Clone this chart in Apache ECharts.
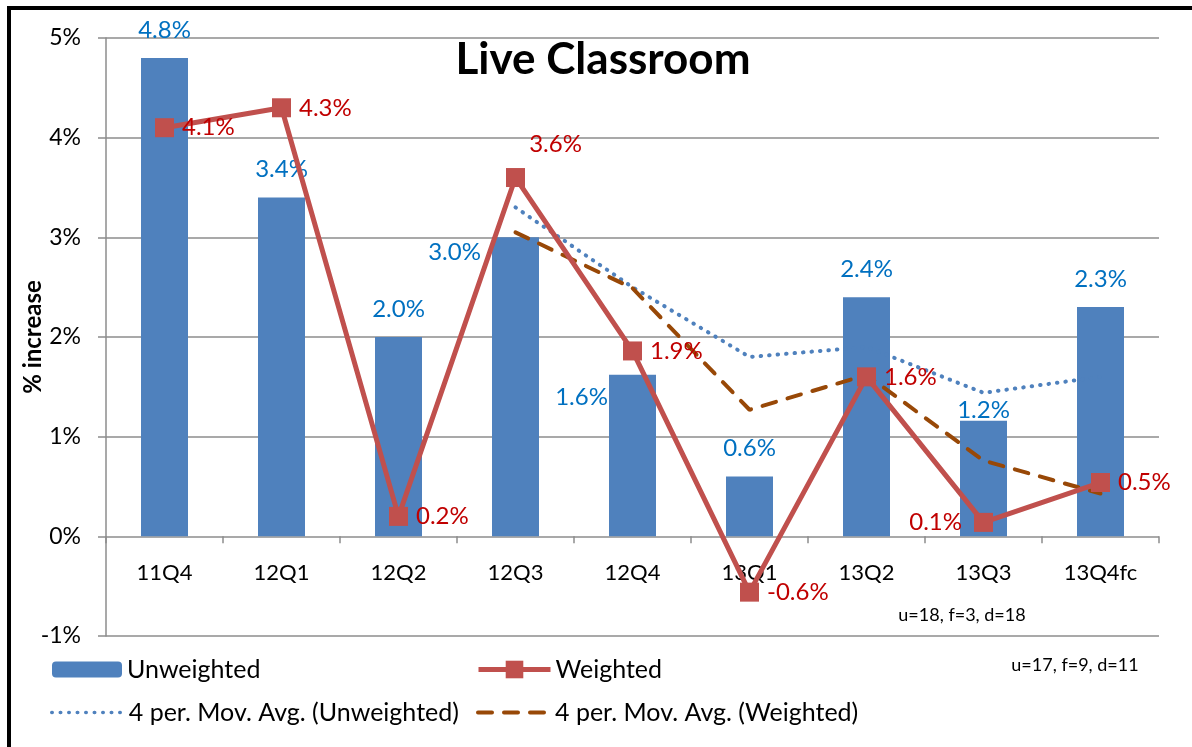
<!DOCTYPE html>
<html>
<head>
<meta charset="utf-8">
<script src="https://cdn.jsdelivr.net/npm/echarts@6/dist/echarts.min.js"></script>
<style>
html,body{margin:0;padding:0;background:#fff;}
#chart{width:1192px;height:747px;}
</style>
</head>
<body>
<div id="chart"></div>
<script>
// ---- data ----
const categories = ['11Q4','12Q1','12Q2','12Q3','12Q4','13Q1','13Q2','13Q3','13Q4fc'];
const unweighted = [4.8, 3.4, 2.0, 3.0, 1.62, 0.6, 2.4, 1.16, 2.3];
const weighted = [4.1, 4.3, 0.2, 3.6, 1.86, -0.56, 1.6, 0.14, 0.54];
const movAvgUnweighted = [null, null, null, 3.3, 2.5, 1.8, 1.9, 1.44, 1.6];
const movAvgWeighted = [null, null, null, 3.05, 2.49, 1.27, 1.62, 0.76, 0.43];
const yTicks = {min: -1, max: 5, step: 1};
const titleText = 'Live Classroom';
const yAxisTitle = '% increase';
const notes = ['u=18, f=3, d=18', 'u=17, f=9, d=11'];

// ---- styling ----
const FONT = 'Lato, "Noto Sans", sans-serif';
const BLUE = '#4F81BD', RED = '#C0504D', BROWN = '#984807';
const LBLUE = '#0070C0', LRED = '#C00000', GRID = '#8C8C8C';

const barLabelOverrides = {
  3: {offset: [-61, 43]},
  4: {offset: [-51, 50]},
  7: {offset: [0, 18]}
};
const lineLabelOverrides = {
  3: {position: 'top', offset: [40, -4]},
  7: {position: 'left', distance: 12}
};
const pct = v => v.toFixed(1) + '%';

const barData = unweighted.map((v, i) => barLabelOverrides[i] ? {value: v, label: barLabelOverrides[i]} : v);
const lineData = weighted.map((v, i) => lineLabelOverrides[i] ? {value: v, label: lineLabelOverrides[i]} : v);
const tickData = categories.map((c, i) => [i, 0]);

const chart = echarts.init(document.getElementById('chart'));
const legendBase = {padding: 0, itemGap: 0, textStyle: {fontFamily: FONT, fontSize: 25, color: '#000'}};
chart.setOption({
  animation: false,
  backgroundColor: '#fff',
  grid: {left: 106, right: 33, top: 38, bottom: 111, containLabel: false},
  xAxis: {
    type: 'category', data: categories,
    axisLine: {show: false, onZero: false},
    axisTick: {show: false},
    axisLabel: {fontFamily: FONT, fontSize: 22, color: '#000', margin: -74},
    splitLine: {show: false}
  },
  yAxis: {
    type: 'value', min: yTicks.min, max: yTicks.max, interval: yTicks.step,
    axisLine: {show: true, lineStyle: {color: GRID, width: 1.5}},
    axisTick: {show: true, length: 8, lineStyle: {color: GRID, width: 1.5}},
    axisLabel: {fontFamily: FONT, fontSize: 23, color: '#000', margin: 25, formatter: '{value}%'},
    splitLine: {show: true, lineStyle: {color: GRID, width: 1.5}}
  },
  legend: [
    Object.assign({}, legendBase, {data: ['Unweighted'], left: 52, top: 657, itemWidth: 70, itemHeight: 16}),
    Object.assign({}, legendBase, {data: ['Weighted'], left: 476, top: 657, itemWidth: 72, itemHeight: 22, lineStyle: {width: 5}}),
    Object.assign({}, legendBase, {data: ['4 per. Mov. Avg. (Unweighted)'], left: 50, top: 700, itemWidth: 72, itemHeight: 14, itemStyle: {opacity: 0}, lineStyle: {width: 3.5}}),
    Object.assign({}, legendBase, {data: ['4 per. Mov. Avg. (Weighted)'], left: 476, top: 700, itemWidth: 72, itemHeight: 14, itemStyle: {opacity: 0}, lineStyle: {width: 4}})
  ],
  graphic: [
    {type: 'rect', shape: {x: 9, y: 8, width: 1400, height: 900}, style: {fill: null, stroke: '#000', lineWidth: 4}, silent: true, z: 100},
    {type: 'text', x: 603, y: 60, style: {text: titleText, fontFamily: FONT, fontSize: 44, fontWeight: 'bold', fill: '#000', align: 'center', verticalAlign: 'middle'}},
    {type: 'text', x: 33, y: 337, rotation: Math.PI / 2, style: {text: yAxisTitle, fontFamily: FONT, fontSize: 24, fontWeight: 'bold', fill: '#000', align: 'center', verticalAlign: 'middle'}},
    {type: 'text', x: 962, y: 615, style: {text: notes[0], fontFamily: FONT, fontSize: 18, fill: '#000', align: 'center', verticalAlign: 'middle'}},
    {type: 'text', x: 1075, y: 665, style: {text: notes[1], fontFamily: FONT, fontSize: 18, fill: '#000', align: 'center', verticalAlign: 'middle'}}
  ],
  series: [
    {
      name: 'Unweighted', type: 'bar', data: barData, barWidth: 47, z: 2,
      itemStyle: {color: BLUE},
      label: {show: true, position: 'top', distance: 16, color: LBLUE, fontFamily: FONT, fontSize: 24, formatter: p => pct(p.value)}
    },
    {
      name: '4 per. Mov. Avg. (Unweighted)', type: 'line', data: movAvgUnweighted, z: 3,
      symbol: 'none', connectNulls: false, color: BLUE,
      lineStyle: {color: BLUE, width: 4, type: [0.5, 8], cap: 'round'}
    },
    {
      name: '4 per. Mov. Avg. (Weighted)', type: 'line', data: movAvgWeighted, z: 3,
      symbol: 'none', color: BROWN,
      lineStyle: {color: BROWN, width: 4, type: [14, 12], cap: 'round'}
    },
    {
      name: 'Weighted', type: 'line', data: lineData, z: 4,
      symbol: 'rect', symbolSize: 19, color: RED,
      itemStyle: {color: RED},
      lineStyle: {color: RED, width: 5},
      label: {show: true, position: 'right', distance: 8, color: LRED, fontFamily: FONT, fontSize: 24, formatter: p => pct(p.value)}
    },
    {
      name: 'zeroTicks', type: 'custom', data: tickData, z: 1, silent: true,
      renderItem: function (params, api) {
        const p = api.coord([api.value(0), 0]);
        const bw = api.size([1, 0])[0];
        const style = {stroke: GRID, lineWidth: 1.5};
        const children = [{type: 'line', shape: {x1: p[0] - bw / 2, y1: p[1], x2: p[0] - bw / 2, y2: p[1] + 7}, style: style}];
        if (params.dataIndex === categories.length - 1) {
          children.push({type: 'line', shape: {x1: p[0] + bw / 2, y1: p[1], x2: p[0] + bw / 2, y2: p[1] + 7}, style: style});
        }
        return {type: 'group', children: children};
      }
    }
  ]
});
</script>
</body>
</html>
